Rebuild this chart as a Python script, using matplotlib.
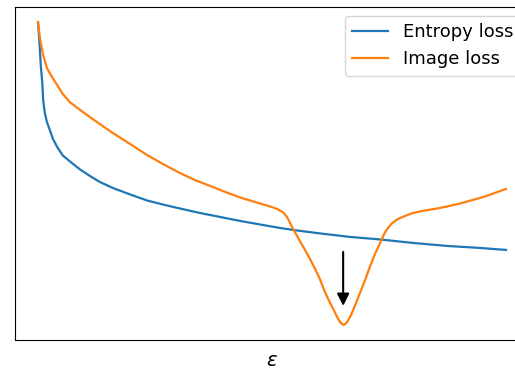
import numpy as np
import matplotlib
matplotlib.use("Agg")
import matplotlib.pyplot as plt

# values (epsilon in [0, 1], loss in arbitrary units)
eps_entropy = [0.000, 0.002, 0.004, 0.006, 0.009, 0.011, 0.013, 0.015, 0.019,
               0.026, 0.032, 0.041, 0.053, 0.075, 0.090, 0.111, 0.132, 0.160,
               0.197, 0.233, 0.271, 0.303, 0.346, 0.389, 0.432, 0.474, 0.517,
               0.553, 0.603, 0.667, 0.731, 0.801, 0.874, 0.944, 1.000]
loss_entropy = [3.18, 3.05, 2.90, 2.74, 2.58, 2.40, 2.32, 2.26, 2.18,
                2.09, 2.01, 1.93, 1.845, 1.76, 1.705, 1.64, 1.58, 1.52,
                1.455, 1.395, 1.35, 1.315, 1.27, 1.23, 1.19, 1.155, 1.12,
                1.095, 1.065, 1.03, 1.005, 0.97, 0.94, 0.92, 0.90]

eps_image = [0.000, 0.004, 0.011, 0.019, 0.030, 0.041, 0.053, 0.068, 0.090,
             0.111, 0.132, 0.160, 0.197, 0.233, 0.267, 0.303, 0.335, 0.368,
             0.400, 0.432, 0.474, 0.496, 0.511, 0.524, 0.532, 0.538, 0.545,
             0.553, 0.560, 0.571, 0.581, 0.592, 0.603, 0.613, 0.624, 0.635,
             0.641, 0.647, 0.652, 0.656, 0.662, 0.669, 0.677, 0.688, 0.699,
             0.709, 0.720, 0.731, 0.739, 0.746, 0.756, 0.767, 0.784, 0.801,
             0.827, 0.853, 0.874, 0.902, 0.929, 0.955, 0.976, 1.000]
loss_image = [3.18, 3.02, 2.85, 2.72, 2.63, 2.55, 2.46, 2.38, 2.30,
              2.23, 2.16, 2.07, 1.96, 1.85, 1.76, 1.67, 1.60, 1.54,
              1.48, 1.425, 1.365, 1.335, 1.31, 1.275, 1.23, 1.175, 1.11,
              1.045, 0.985, 0.895, 0.81, 0.71, 0.60, 0.48, 0.37, 0.27,
              0.21, 0.17, 0.15, 0.155, 0.19, 0.25, 0.34, 0.47, 0.60,
              0.73, 0.86, 0.97, 1.055, 1.11, 1.165, 1.205, 1.24, 1.27,
              1.295, 1.315, 1.335, 1.365, 1.40, 1.435, 1.47, 1.51]

arrow_eps = 0.652
arrow_from = 0.88
arrow_to = 0.34

fig = plt.figure(figsize=(5.15, 3.69), dpi=100)
ax = fig.add_axes([0.0284, 0.0786, 0.9996, 0.9024])

ax.plot(eps_entropy, loss_entropy, color="#1f77b4", lw=1.6, label="Entropy loss")
ax.plot(eps_image, loss_image, color="#ff7f0e", lw=1.6, label="Image loss")

ax.annotate("", xy=(arrow_eps, arrow_to), xytext=(arrow_eps, arrow_from),
            arrowprops=dict(arrowstyle="-|>", color="black", lw=1.5,
                            mutation_scale=18, shrinkA=0, shrinkB=0))

ax.set_xticks([])
ax.set_yticks([])
ax.set_xlabel(r"$\varepsilon$", fontsize=14, labelpad=8)
ax.legend(loc="upper right", fontsize=13)

fig.savefig("out.png", dpi=100)
